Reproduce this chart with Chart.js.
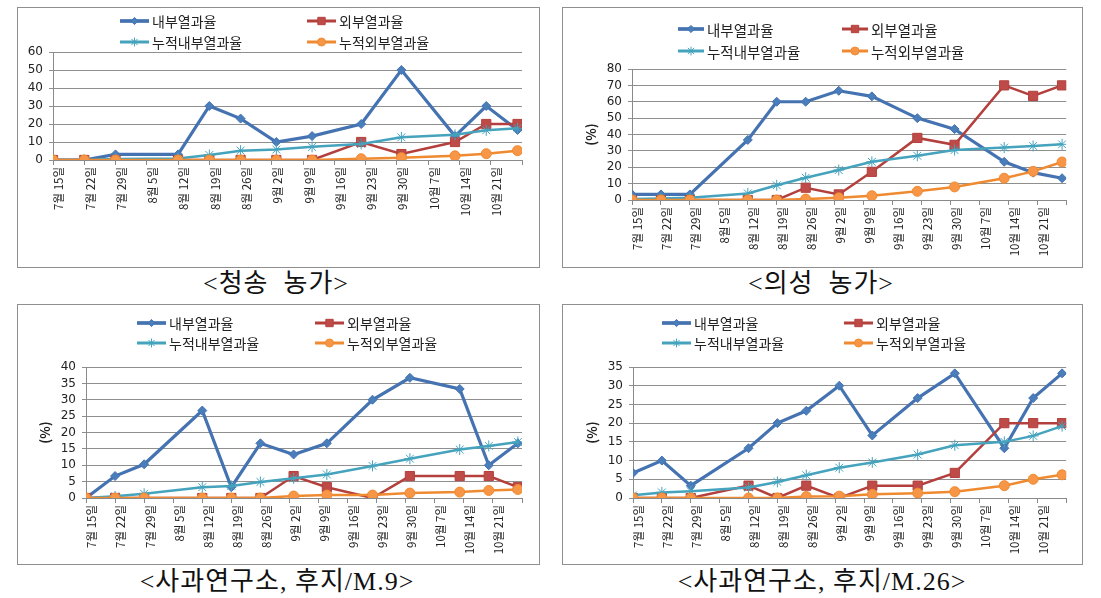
<!DOCTYPE html>
<html><head><meta charset="utf-8">
<script src="https://cdn.jsdelivr.net/npm/chart.js@4.4.0/dist/chart.umd.min.js"></script>
<style>
html,body{margin:0;padding:0;background:#fff;}
body{width:1101px;height:598px;position:relative;overflow:hidden;}
.panel{position:absolute;border:1px solid #8f8f8f;box-sizing:border-box;background:#fff;}
.panel canvas{display:block;}
.cap{position:absolute;font-family:'Liberation Serif','Noto Sans CJK KR',serif;font-size:26px;line-height:30px;color:#111;transform:translateX(-50%);white-space:nowrap;letter-spacing:1px;}
</style></head><body>
<div class="panel" style="left:17px;top:7px;width:523px;height:261px"><canvas id="c1" width="521" height="259"></canvas></div>
<div class="panel" style="left:562px;top:7px;width:521px;height:261px"><canvas id="c2" width="519" height="259"></canvas></div>
<div class="panel" style="left:17px;top:304px;width:523px;height:261px"><canvas id="c3" width="521" height="259"></canvas></div>
<div class="panel" style="left:562px;top:304px;width:521px;height:261px"><canvas id="c4" width="519" height="259"></canvas></div>
<div class="cap" style="left:276px;top:269px">&lt;청송&nbsp; 농가&gt;</div>
<div class="cap" style="left:821px;top:269px">&lt;의성&nbsp; 농가&gt;</div>
<div class="cap" style="left:277px;top:567px">&lt;사과연구소, 후지/M.9&gt;</div>
<div class="cap" style="left:822px;top:567px">&lt;사과연구소, 후지/M.26&gt;</div>
<script>
// ---- data ----
const surveyDay = [0, 7, 14, 28, 35, 42, 50, 58, 69, 78, 90, 97, 104]; // days after 7/15
const xTickValues = [0, 7, 14, 21, 28, 35, 42, 49, 56, 63, 70, 77, 84, 91, 98, 105];
const xTickLabels = ['7월 15일','7월 22일','7월 29일','8월 5일','8월 12일','8월 19일','8월 26일','9월 2일','9월 9일','9월 16일','9월 23일','9월 30일','10월 7일','10월 14일','10월 21일'];
const seriesNames = ['내부열과율','외부열과율','누적내부열과율','누적외부열과율'];

const cheongsongInner    = [0, 0, 3.1, 3.1, 30, 23, 10, 13.3, 20, 50, 13.3, 30, 16.7];
const cheongsongOuter    = [0, 0, 0, 0, 0, 0, 0, 0, 10, 3.3, 10, 20, 20];
const cheongsongCumInner = [0, 0, 0.6, 0.9, 2.8, 5.2, 5.8, 7.3, 8.9, 12.6, 14, 16.5, 17.6];
const cheongsongCumOuter = [0, 0, 0, 0, 0, 0, 0, 0, 0.7, 1.3, 2.3, 3.5, 5.2];

const uiseongInner    = [3.4, 3.4, 3.4, 36.7, 60, 60, 66.7, 63.3, 50, 43.3, 23.3, 16.7, 13.3];
const uiseongOuter    = [0, 0, 0, 0, 0, 7.5, 3.4, 17.2, 37.9, 33.7, 70, 63.6, 70];
const uiseongCumInner = [0.6, 0.9, 1.4, 4, 9, 13.6, 18.3, 23.3, 27, 30.5, 32, 33, 34];
const uiseongCumOuter = [0, 0, 0, 0, 0, 0.6, 1.3, 2.6, 5.3, 8, 13.3, 17.5, 23.2];

const m9Inner    = [0, 6.7, 10.3, 26.7, 3.3, 16.7, 13.3, 16.7, 30, 36.7, 33.3, 10, 16.7];
const m9Outer    = [0, 0, 0, 0, 0, 0, 6.7, 3.3, 0, 6.7, 6.7, 6.7, 3.3];
const m9CumInner = [0, 0.5, 1.3, 3.3, 3.7, 4.9, 6, 7.2, 9.8, 12, 14.8, 15.9, 17.1];
const m9CumOuter = [0, 0, 0, 0, 0, 0, 0.6, 0.9, 0.9, 1.5, 1.8, 2.3, 2.6];

const m26Inner    = [6.7, 10, 3.3, 13.3, 20, 23.3, 30, 16.7, 26.7, 33.3, 13.3, 26.7, 33.3];
const m26Outer    = [0, 0, 0, 3.3, 0, 3.3, 0, 3.3, 3.3, 6.7, 20, 20, 20];
const m26CumInner = [0.7, 1.5, 1.8, 2.8, 4.3, 6.1, 8.1, 9.5, 11.6, 14.1, 15, 16.6, 19.2];
const m26CumOuter = [0, 0, 0, 0, 0, 0.4, 0.5, 1, 1.3, 1.7, 3.3, 5, 6.2];

// ---- styles ----
const styles = [
  {line:'#4573B1', fill:'#4A7EBB', shape:'rectRot', r:4.5, w:3.2},
  {line:'#B3403D', fill:'#BE4B48', shape:'rect',    r:6.5, w:2.5},
  {line:'#45A3BD', fill:'#4BACC6', shape:'star',    r:5.5, w:2.5},
  {line:'#F08A30', fill:'#F79646', shape:'circle',  r:5,   w:2.5}
];
const FONT_KR = "'Noto Sans CJK KR', 'DejaVu Sans', sans-serif";
Chart.defaults.font.family = FONT_KR;

function drawMarker(ctx, shape, r, x, y) {
  if (Chart.helpers && Chart.helpers.drawPoint) {
    Chart.helpers.drawPoint(ctx, {pointStyle: shape, radius: r, borderWidth: 1, rotation: 0}, x, y);
    return;
  }
  ctx.beginPath(); ctx.arc(x, y, r, 0, Math.PI*2); ctx.fill(); ctx.stroke();
}

const gridLegend = {
  id: 'gridLegend',
  afterDraw(chart, args, o) {
    const ctx = chart.ctx;
    ctx.save();
    chart.data.datasets.forEach((ds, i) => {
      const st = styles[i];
      const x = o.cols[i % 2], y = o.rows[Math.floor(i / 2)];
      const L = o.lineLen;
      ctx.strokeStyle = st.line; ctx.lineWidth = st.w + 0.5; ctx.lineCap = 'butt';
      ctx.beginPath(); ctx.moveTo(x, y); ctx.lineTo(x + L, y); ctx.stroke();
      ctx.fillStyle = st.fill; ctx.strokeStyle = st.line; ctx.lineWidth = 1;
      drawMarker(ctx, st.shape, st.r * 0.8, x + L / 2, y);
      ctx.fillStyle = '#222';
      ctx.font = o.size + 'px ' + FONT_KR;
      ctx.textBaseline = 'middle'; ctx.textAlign = 'left';
      ctx.fillText(ds.label, x + L + 3, y + 1);
    });
    ctx.restore();
  }
};

function makeChart(id, values, cfg) {
  const datasets = values.map((vals, i) => ({
    label: seriesNames[i],
    data: vals.map((v, j) => ({x: surveyDay[j], y: v})),
    borderColor: styles[i].line,
    backgroundColor: styles[i].fill,
    pointBackgroundColor: styles[i].fill,
    pointBorderColor: styles[i].line,
    pointStyle: styles[i].shape,
    pointRadius: styles[i].r,
    pointBorderWidth: 1,
    borderWidth: styles[i].w,
    tension: 0,
    order: 4 - i
  }));
  const yTicks = [];
  for (let v = 0; v <= cfg.ymax; v += cfg.step) yTicks.push({value: v});
  return new Chart(document.getElementById(id), {
    type: 'line',
    data: {datasets},
    options: {
      responsive: false,
      animation: false,
      layout: {padding: {top: cfg.top, right: cfg.right, left: 0, bottom: 0}},
      plugins: {legend: {display: false}, tooltip: {enabled: false}, gridLegend: cfg.legend},
      scales: {
        x: {
          type: 'linear', min: 0, max: 105,
          afterBuildTicks: s => { s.ticks = xTickValues.map(v => ({value: v})); },
          afterFit: s => { s.height = cfg.xh; },
          ticks: {autoSkip: false, minRotation: 90, maxRotation: 90, labelOffset: 6, padding: 2,
                  font: {size: 11.5}, color: '#222',
                  callback: v => xTickLabels[Math.round(v / 7)] || ''},
          grid: {drawOnChartArea: false, drawTicks: true, tickLength: 5, color: '#8a8a8a'},
          border: {display: true, color: '#8a8a8a'}
        },
        y: {
          min: 0, max: cfg.ymax,
          afterBuildTicks: s => { s.ticks = yTicks.map(t => ({value: t.value})); },
          afterFit: s => { s.width = cfg.yw; },
          ticks: {autoSkip: false, padding: 6, font: {family: "'DejaVu Sans', sans-serif", size: 12}, color: '#222'},
          grid: {color: '#8f8f8f', tickLength: 4, drawTicks: true},
          border: {display: true, color: '#8a8a8a'},
          title: cfg.tpad != null ? {display: true, text: '(%)', color: '#222',
                  font: {size: 13, weight: 'bold'}, padding: {top: cfg.tpad, bottom: 0}} : {display: false}
        }
      }
    },
    plugins: [gridLegend]
  });
}

makeChart('c1', [cheongsongInner, cheongsongOuter, cheongsongCumInner, cheongsongCumOuter],
  {top: 44, right: 17, yw: 35, xh: 107, ymax: 60, step: 10, tpad: null,
   legend: {cols: [102, 289], rows: [13, 34], lineLen: 29, size: 14}});
makeChart('c2', [uiseongInner, uiseongOuter, uiseongCumInner, uiseongCumOuter],
  {top: 61, right: 15, yw: 69, xh: 67, ymax: 80, step: 10, tpad: 20,
   legend: {cols: [115, 279], rows: [21, 43], lineLen: 26, size: 14.5}});
makeChart('c3', [m9Inner, m9Outer, m9CumInner, m9CumOuter],
  {top: 62, right: 17, yw: 68, xh: 66, ymax: 40, step: 5, tpad: 19,
   legend: {cols: [119, 297], rows: [18, 38], lineLen: 29, size: 14}});
makeChart('c4', [m26Inner, m26Outer, m26CumInner, m26CumOuter],
  {top: 62, right: 15, yw: 70, xh: 66, ymax: 35, step: 5, tpad: 21,
   legend: {cols: [99, 281], rows: [18, 38], lineLen: 29, size: 14}});
</script>
</body></html>
